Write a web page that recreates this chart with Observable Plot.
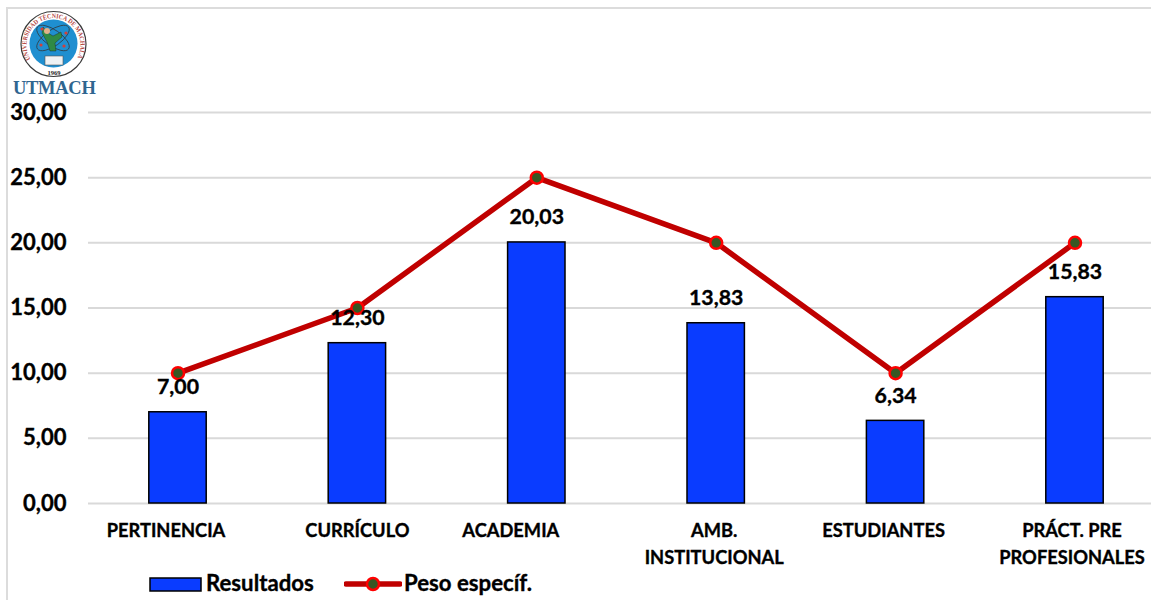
<!DOCTYPE html>
<html>
<head>
<meta charset="utf-8">
<script src="https://cdn.jsdelivr.net/npm/d3@7"></script>
<script src="https://cdn.jsdelivr.net/npm/@observablehq/plot@0.6"></script>
<style>
html,body{margin:0;padding:0;background:#fff;width:1151px;height:600px;overflow:hidden;font-family:Lato,"Open Sans",sans-serif}
#wrap{position:relative;width:1151px;height:600px;overflow:hidden}
#frame{position:absolute;left:6px;top:7px;width:1160px;height:610px;border:2px solid #dcdcdc;box-sizing:border-box;pointer-events:none}
#logo{position:absolute;left:10px;top:10px}
#legend{position:absolute;left:0;top:570px;width:1151px;height:30px;font-weight:700;font-size:22.2px;color:#000;-webkit-text-stroke:.35px #000}
#legend svg,#legend span{position:absolute}
#legend span{top:-2px;line-height:29px;white-space:nowrap}
#chart{position:absolute;left:0;top:0}
#chart svg{background:transparent;overflow:hidden}
#chart text{stroke:#000;stroke-width:.35px}
</style>
</head>
<body>
<div id="wrap">
<div id="chart"></div>
<div id="frame"></div>
<svg id="logo" width="90" height="90" viewBox="10 10 90 90">
  <defs><path id="arc" d="M 31 60 A 27 27 0 1 1 76 60"/></defs>
  <circle cx="53.5" cy="44" r="32.5" fill="#fff" stroke="#3a3a3a" stroke-width="1.2"/>
  <circle cx="53.5" cy="43.5" r="24" fill="#1f8fd0"/>
  <text font-size="6.6" font-weight="700" fill="#b5473f" font-family="Liberation Serif"><textPath href="#arc" startOffset="1" textLength="112" lengthAdjust="spacingAndGlyphs">UNIVERSIDAD TÉCNICA DE MACHALA</textPath></text>
  <g fill="none" stroke="#333" stroke-width="0.7">
    <ellipse cx="53" cy="38" rx="19" ry="8" transform="rotate(35 53 38)"/>
    <ellipse cx="53" cy="38" rx="19" ry="8" transform="rotate(-35 53 38)"/>
  </g>
  <path d="M43 27 L48 33 L53 36 L61 32 L62 37 L55 43 L56 51 L50 51 L47 42 L42 33 Z" fill="#2f8a45" stroke="#222" stroke-width=".4"/>
  <circle cx="47" cy="31" r="3" fill="#e0b18a"/>
  <circle cx="42" cy="29" r="1.6" fill="#d43f3a"/><circle cx="66" cy="33" r="1.6" fill="#d43f3a"/><circle cx="41" cy="45" r="1.6" fill="#d43f3a"/><circle cx="64" cy="46" r="1.6" fill="#d43f3a"/>
  <rect x="45" y="56" width="18" height="9" fill="#eef2f4" stroke="#555" stroke-width="0.6"/>
  <text x="54" y="74.5" font-size="6.5" font-weight="700" text-anchor="middle" fill="#222" font-family="Liberation Serif">1969</text>
</svg>
<div style="position:absolute;left:13px;top:78px;font:700 18.5px 'Liberation Serif',serif;color:#2f6690;letter-spacing:-.3px">UTMACH</div>
<div id="legend">
  <svg style="left:149px;top:7px" width="53" height="15"><rect x="1" y="1" width="51" height="13" fill="#0a3cff" stroke="#000" stroke-width="1.5"/></svg>
  <span style="left:206px">Resultados</span>
  <svg style="left:344px;top:4px" width="58" height="20"><line x1="2" x2="56" y1="10" y2="10" stroke="#c00000" stroke-width="5.5" stroke-linecap="round"/><circle cx="29" cy="10" r="6" fill="#385723" stroke="#ff0000" stroke-width="2.5"/></svg>
  <span style="left:404px">Peso específ.</span>
</div>
</div>
<script>
const categories = ["PERTINENCIA","CURRÍCULO","ACADEMIA","AMB.\nINSTITUCIONAL","ESTUDIANTES","PRÁCT. PRE\nPROFESIONALES"];
const resultados = [7.00,12.30,20.03,13.83,6.34,15.83];
const peso = [10,15,25,20,10,20];
const yTicks = [0,5,10,15,20,25,30];
const labelShift = [-12,0,-26,-2,-12,-3];

const table = categories.map((c,i)=>({c,r:resultados[i],p:peso[i],shift:labelShift[i]}));
const fmt = d3.format(".2f");
const comma = v => fmt(v).replace(".",",");
const font = "Lato, 'Open Sans', sans-serif";

const plot = Plot.plot({
  width:1151, height:570,
  marginLeft:88, marginRight:0, marginTop:112, marginBottom:67,
  style:{fontFamily:font, background:"transparent", color:"#000"},
  x:{domain:categories, range:[87.8,1164.2], round:false, paddingInner:0.68, paddingOuter:0.34, axis:null},
  y:{domain:[0,30], ticks:yTicks, axis:null},
  marks:[
    Plot.ruleY(yTicks,{stroke:"#d9d9d9",strokeWidth:2}),
    Plot.axisY({ticks:yTicks,tickSize:0,tickPadding:22,tickFormat:comma,fontSize:22,fontWeight:700,anchor:"left"}),
    Plot.barY(table,{x:"c",y:"r",fill:"#0a3cff",stroke:"#000",strokeWidth:1.5}),
    Plot.line(table,{x:"c",y:"p",stroke:"#c00000",strokeWidth:5.5,curve:"linear"}),
    Plot.dot(table,{x:"c",y:"p",r:6,fill:"#385723",stroke:"#ff0000",strokeWidth:2.5}),
    Plot.text(table,{x:"c",y:"r",text:d=>comma(d.r),dy:-25,fontSize:21.3,fontWeight:700,fill:"#000"}),
    ...table.map(d=>Plot.text([d],{x:"c",frameAnchor:"bottom",text:"c",dx:d.shift,dy:14,lineAnchor:"top",lineHeight:1.5,fontSize:18.3,fontWeight:700,fill:"#000"}))
  ]
});
document.getElementById("chart").appendChild(plot);
</script>
</body>
</html>
